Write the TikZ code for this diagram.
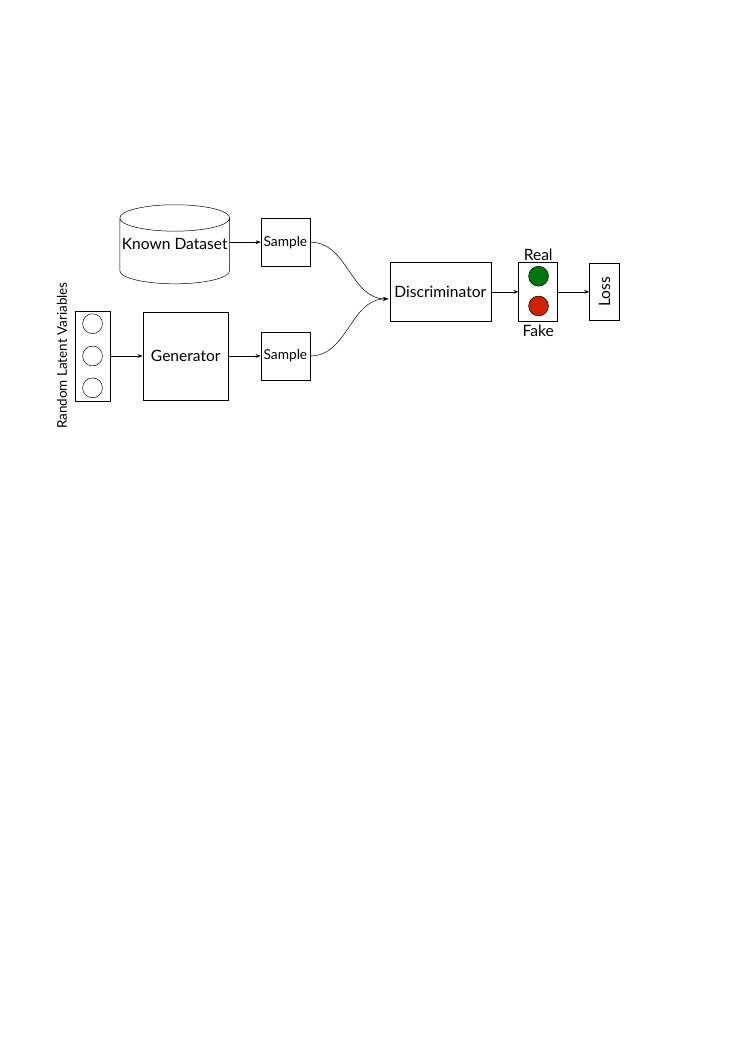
\documentclass[tikz,border=0pt]{standalone}
\usepackage{fontspec}
\setmainfont{Lato}
\usepackage{tikz}
\usetikzlibrary{shapes.geometric, arrows.meta}
\definecolor{realgreen}{RGB}{0,118,16}
\definecolor{fakered}{RGB}{204,34,0}

\begin{document}
\begin{tikzpicture}[
  box/.style = {draw, thin, inner sep=0pt, font=\fontsize{12.5}{14}\selectfont},
  smallbox/.style = {box, minimum width=1.38cm, minimum height=1.35cm, font=\fontsize{11}{13}\selectfont},
  unit/.style = {draw, thin, circle, minimum size=0.56cm, inner sep=0pt},
  flow/.style = {-{Stealth[length=4pt, width=3pt]}, thin}
]
\useasboundingbox (0,0) rectangle (21,-29.7);

\node[box, cylinder, shape border rotate=90, aspect=0.25, minimum width=3.1cm, minimum height=2.23cm, anchor=shape center] (data) at (4.93,-6.89) {\phantom{Known Dataset}};
\node[font=\fontsize{12.5}{14}\selectfont] (datalabel) at (data.shape center) {Known Dataset};
\node[smallbox] (sampleA) at (8.05,-6.83) {Sample};

\node[box, minimum width=0.99cm, minimum height=2.54cm] (latent) at (2.61,-10.04) {};
\node[unit] (z1) at (2.61,-9.13) {};
\node[unit] (z2) at (2.61,-10.04) {};
\node[unit] (z3) at (2.61,-10.94) {};
\node[rotate=90, font=\fontsize{10.8}{12}\selectfont] (zlabel) at (1.75,-10.03) {Random Latent Variables};

\node[box, minimum width=2.42cm, minimum height=2.48cm] (gen) at (5.24,-10.04) {Generator};
\node[smallbox] (sampleB) at (8.05,-10.04) {Sample};

\node[box, minimum width=2.85cm, minimum height=1.66cm] (disc) at (12.42,-8.23) {Discriminator};
\coordinate (discin) at (10.95,-8.43);

\node[box, minimum width=1.10cm, minimum height=1.66cm] (out) at (15.18,-8.23) {};
\node[unit, fill=realgreen] (real) at (15.19,-7.79) {};
\node[unit, fill=fakered] (fake) at (15.19,-8.63) {};
\node[above, inner sep=1pt, font=\fontsize{12.5}{14}\selectfont] (reallabel) at (out.north) {Real};
\node[below, inner sep=3pt, font=\fontsize{12.5}{14}\selectfont] (fakelabel) at (out.south) {Fake};

\node[box, minimum width=0.85cm, minimum height=1.63cm] (loss) at (17.05,-8.23) {\rotatebox{90}{Loss}};

\draw[flow] (data.east |- sampleA.west) -- (sampleA.west);
\draw[flow] (latent.east) -- (gen.west);
\draw[flow] (gen.east) -- (sampleB.west);
\draw[flow] (sampleA.east) to[out=0, in=180] (discin);
\draw[flow] (sampleB.east) to[out=0, in=180] (discin);
\draw[flow] (disc.east) -- (out.west);
\draw[flow] (out.east) -- (loss.west);
\end{tikzpicture}
\end{document}
